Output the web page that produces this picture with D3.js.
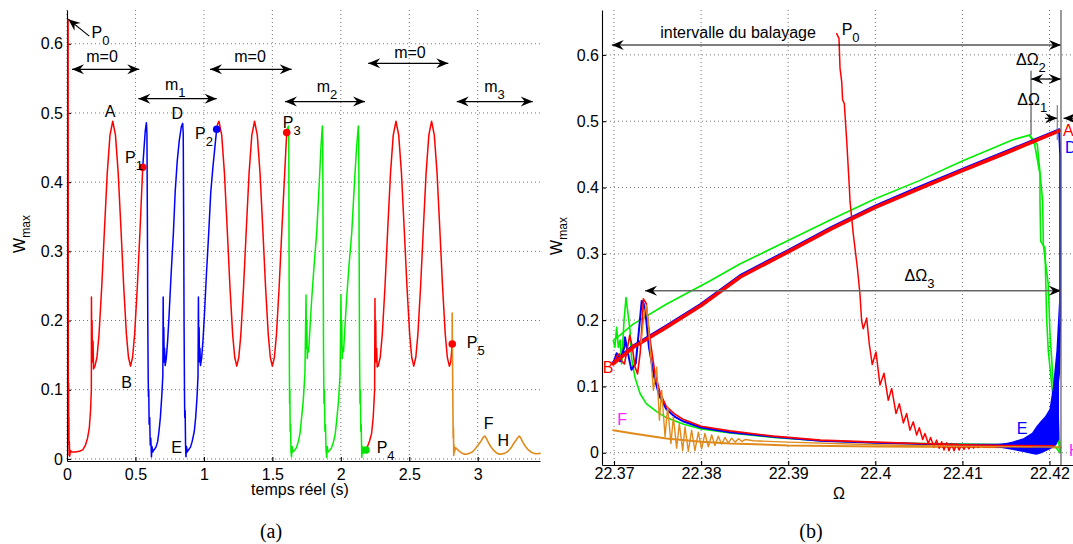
<!DOCTYPE html>
<html><head><meta charset="utf-8">
<script src="https://cdn.jsdelivr.net/npm/d3@7"></script>
<style>
body{margin:0;background:#fff}
svg{display:block}
text{font-family:"Liberation Sans",Arial,Helvetica,sans-serif}
</style>
</head><body>
<svg id="c" width="1073" height="544"></svg>
<script>
// ---------------- DATA ----------------
const yTicks = [0, 0.1, 0.2, 0.3, 0.4, 0.5, 0.6];
const yTickLabels = ["0", "0.1", "0.2", "0.3", "0.4", "0.5", "0.6"];
const leftXTicks = [0, 0.5, 1, 1.5, 2, 2.5, 3];
const leftXTickLabels = ["0", "0.5", "1", "1.5", "2", "2.5", "3"];
const rightXTicks = [22.37, 22.38, 22.39, 22.4, 22.41, 22.42];
const rightXTickLabels = ["22.37", "22.38", "22.39", "22.4", "22.41", "22.42"];

// (a) time series: [t, Wmax]
const redSeg1 = [[0.008,0.635],[0.0085,0.45],[0.009,0.25],[0.0095,0.12],[0.0105,0.05],[0.0115,0.11],[0.0125,0.02],[0.0135,0.06],[0.015,0.005],[0.017,0.025],[0.02,0.004],[0.025,0.012],[0.035,0.01],[0.06,0.01],[0.09,0.011],[0.115,0.013],[0.135,0.02],[0.15,0.03],[0.163,0.045],[0.172,0.07],[0.178,0.1],[0.1785,0.234],[0.181,0.16],[0.183,0.2],[0.186,0.14],[0.19,0.17],[0.194,0.13],[0.204,0.134],[0.219,0.147],[0.234,0.18],[0.254,0.25],[0.274,0.333],[0.294,0.413],[0.314,0.468],[0.334,0.488],[0.354,0.468],[0.374,0.413],[0.394,0.333],[0.414,0.25],[0.434,0.18],[0.449,0.147],[0.464,0.134],[0.479,0.147],[0.494,0.18],[0.514,0.25],[0.534,0.333],[0.553,0.421]];
const blueSeg = [[0.553,0.421],[0.563,0.45],[0.572,0.475],[0.58,0.486],[0.584,0.47],[0.587,0.35],[0.59,0.2],[0.593,0.12],[0.595,0.09],[0.597,0.1],[0.6,0.05],[0.604,0.06],[0.608,0.02],[0.612,0.03],[0.617,0.003],[0.621,0.018],[0.626,0.01],[0.635,0.013],[0.65,0.017],[0.662,0.025],[0.672,0.04],[0.682,0.06],[0.692,0.09],[0.7,0.12],[0.7025,0.234],[0.705,0.15],[0.707,0.19],[0.71,0.14],[0.713,0.16],[0.717,0.135],[0.725,0.145],[0.735,0.17],[0.745,0.205],[0.76,0.265],[0.777,0.326],[0.79,0.385],[0.805,0.43],[0.82,0.46],[0.835,0.48],[0.845,0.485],[0.849,0.47],[0.852,0.35],[0.855,0.2],[0.858,0.1],[0.86,0.06],[0.863,0.07],[0.866,0.02],[0.869,0.003],[0.873,0.018],[0.878,0.01],[0.887,0.013],[0.902,0.017],[0.914,0.025],[0.93,0.04],[0.94,0.06],[0.95,0.09],[0.957,0.12],[0.96,0.234],[0.9625,0.15],[0.965,0.19],[0.968,0.14],[0.971,0.16],[0.975,0.135],[0.983,0.145],[0.993,0.17],[1.003,0.205],[1.018,0.265],[1.035,0.326],[1.05,0.385],[1.065,0.42],[1.08,0.45],[1.093,0.476]];
const redSeg2 = [[1.093,0.476],[1.1,0.484],[1.11,0.488],[1.13,0.468],[1.15,0.413],[1.17,0.333],[1.19,0.25],[1.21,0.18],[1.225,0.147],[1.24,0.134],[1.255,0.147],[1.27,0.18],[1.29,0.25],[1.31,0.333],[1.33,0.413],[1.35,0.468],[1.37,0.488],[1.39,0.468],[1.41,0.413],[1.43,0.333],[1.45,0.25],[1.47,0.18],[1.485,0.147],[1.5,0.134],[1.515,0.147],[1.53,0.18],[1.55,0.25],[1.57,0.333],[1.59,0.413],[1.605,0.4716]];
const greenSeg = [[1.605,0.4716],[1.611,0.478],[1.617,0.481],[1.62,0.46],[1.622,0.3],[1.624,0.15],[1.626,0.08],[1.628,0.1],[1.63,0.04],[1.633,0.05],[1.636,0.01],[1.64,0.003],[1.644,0.018],[1.65,0.01],[1.66,0.012],[1.675,0.016],[1.69,0.025],[1.702,0.037],[1.714,0.06],[1.726,0.085],[1.738,0.124],[1.746,0.237],[1.749,0.16],[1.752,0.2],[1.755,0.145],[1.76,0.16],[1.765,0.155],[1.775,0.19],[1.787,0.23],[1.805,0.28],[1.824,0.327],[1.843,0.4],[1.855,0.45],[1.865,0.481],[1.868,0.46],[1.871,0.3],[1.874,0.15],[1.877,0.08],[1.88,0.1],[1.884,0.04],[1.888,0.05],[1.892,0.012],[1.897,0.002],[1.901,0.018],[1.907,0.01],[1.917,0.012],[1.932,0.016],[1.947,0.025],[1.96,0.037],[1.972,0.06],[1.984,0.085],[1.995,0.124],[2.001,0.237],[2.004,0.16],[2.007,0.2],[2.01,0.145],[2.015,0.16],[2.02,0.155],[2.03,0.19],[2.042,0.23],[2.06,0.28],[2.08,0.327],[2.1,0.4],[2.115,0.45],[2.128,0.481],[2.131,0.46],[2.134,0.3],[2.137,0.15],[2.14,0.08],[2.143,0.1],[2.146,0.04],[2.149,0.05],[2.153,0.002],[2.158,0.018],[2.164,0.008],[2.172,0.01],[2.184,0.013]];
const redSeg3 = [[2.184,0.013],[2.195,0.018],[2.21,0.026],[2.225,0.037],[2.237,0.061],[2.247,0.1],[2.2495,0.232],[2.252,0.15],[2.255,0.2],[2.258,0.14],[2.262,0.16],[2.266,0.133],[2.273,0.134],[2.288,0.147],[2.303,0.18],[2.323,0.25],[2.343,0.333],[2.363,0.413],[2.383,0.468],[2.403,0.488],[2.423,0.468],[2.443,0.413],[2.463,0.333],[2.483,0.25],[2.503,0.18],[2.518,0.147],[2.533,0.134],[2.548,0.147],[2.563,0.18],[2.583,0.25],[2.603,0.333],[2.623,0.413],[2.643,0.468],[2.663,0.488],[2.683,0.468],[2.703,0.413],[2.723,0.333],[2.743,0.25],[2.763,0.18],[2.778,0.147],[2.793,0.134],[2.803,0.14],[2.814,0.166]];
const orangeSeg = [[2.8135,0.166],[2.8138,0.211],[2.815,0.17],[2.817,0.12],[2.819,0.07],[2.821,0.03],[2.823,0.045],[2.825,0.005],[2.827,0.02],[2.83,0.01],[2.838,0.016],[2.846,0.015],[2.86,0.012],[2.88,0.009],[2.9,0.007],[2.92,0.007],[2.94,0.008],[2.96,0.01],[2.98,0.014],[2.995,0.018],[3.01,0.022],[3.025,0.026],[3.04,0.031],[3.053,0.033],[3.065,0.029],[3.08,0.023],[3.095,0.018],[3.114,0.013],[3.135,0.009],[3.155,0.007],[3.175,0.007],[3.195,0.008],[3.215,0.01],[3.235,0.014],[3.25,0.018],[3.265,0.023],[3.28,0.027],[3.293,0.031],[3.304,0.033],[3.315,0.03],[3.33,0.024],[3.345,0.019],[3.37,0.013],[3.39,0.01],[3.41,0.008],[3.43,0.0075],[3.455,0.008]];
const leftDots = [{p:[0.553,0.4214],c:"#ff0000"},{p:[1.0935,0.4764],c:"#0000ff"},{p:[1.605,0.4716],c:"#ff0000"},{p:[2.184,0.013],c:"#00dd00"},{p:[2.814,0.166],c:"#ff0000"}];

// (b) Omega domain: [Omega, Wmax]
const orangeLineR = [[22.3699,0.034],[22.3722,0.029],[22.376,0.0216],[22.38,0.0165],[22.3833,0.014],[22.39,0.011],[22.4,0.0095],[22.41,0.0085],[22.4213,0.008]];
const greenUpperR = [[22.37,0.17],[22.3722,0.194],[22.376,0.224],[22.381,0.259],[22.3845,0.285],[22.39,0.32],[22.395,0.352],[22.4,0.383],[22.405,0.41],[22.41,0.44],[22.4158,0.472],[22.4177,0.479],[22.4183,0.4645],[22.41891,0.42],[22.41891,0.379],[22.41899,0.319],[22.41948,0.309],[22.41967,0.204],[22.41986,0.154],[22.42044,0.079],[22.42083,0.039],[22.42121,0.0]];
const greenDrop2R = [[22.4177,0.479],[22.4186,0.465],[22.41922,0.379],[22.41929,0.314],[22.41986,0.254],[22.42006,0.179],[22.42044,0.104],[22.421,0.054],[22.42121,0.004]];
const greenLowerR = [[22.42121,0.0],[22.4205,0.012],[22.418,0.0115],[22.41,0.013],[22.4,0.015],[22.3937,0.018],[22.3883,0.023],[22.3833,0.03],[22.38,0.036],[22.378,0.043],[22.376,0.053],[22.3749,0.062],[22.3737,0.074],[22.373,0.089],[22.3724,0.114],[22.372,0.144],[22.37184,0.184],[22.37138,0.234],[22.37115,0.2],[22.37088,0.134],[22.3707,0.17],[22.3705,0.159],[22.3703,0.189],[22.3701,0.159],[22.36992,0.169]];
const blueUpperR = [[22.3699,0.136],[22.3722,0.161],[22.376,0.191],[22.38,0.224],[22.3845,0.267],[22.39,0.305],[22.395,0.34],[22.4,0.372],[22.405,0.4],[22.41,0.4275],[22.415,0.454],[22.4211,0.487]];
const blueLowerR = [[22.3699,0.134],[22.3703,0.15],[22.3707,0.138],[22.3712,0.16],[22.37126,0.174],[22.3716,0.15],[22.372,0.125],[22.3725,0.135],[22.3729,0.19],[22.37318,0.229],[22.3734,0.225],[22.3737,0.2],[22.374,0.16],[22.3746,0.115],[22.3752,0.086],[22.376,0.066],[22.377,0.054],[22.378,0.047],[22.38,0.038],[22.3833,0.031],[22.3883,0.024],[22.3937,0.018],[22.4,0.015],[22.405,0.013],[22.41,0.012],[22.414,0.012],[22.416,0.014],[22.418,0.02],[22.419,0.03],[22.42,0.045],[22.4207,0.075],[22.4211,0.12],[22.42123,0.2],[22.42123,0.45],[22.4211,0.487]];
const blueBandOmega = [22.4132,22.4145,22.4158,22.417,22.418,22.4185,22.419,22.4195,22.42,22.4204,22.4208,22.4211];
const blueBandTop = [0.011,0.013,0.017,0.022,0.03,0.04,0.048,0.055,0.066,0.1,0.155,0.229];
const blueBandBottom = [0.009,0.007,0.004,0.001,-0.002,-0.003,-0.001,0.002,0.005,0.008,0.012,0.02];
const redP0R = [[22.39557,0.632],[22.39583,0.6246],[22.39595,0.58],[22.39614,0.56],[22.39625,0.532],[22.39644,0.527],[22.39672,0.47],[22.39702,0.40],[22.3971,0.379],[22.39748,0.329],[22.39794,0.279],[22.39824,0.239],[22.39843,0.199],[22.39862,0.187],[22.39901,0.203],[22.39931,0.164],[22.39965,0.133],[22.40008,0.152],[22.40054,0.102],[22.401,0.12],[22.40149,0.079],[22.40188,0.097],[22.40238,0.059],[22.40276,0.074],[22.40322,0.045],[22.4036,0.059],[22.40398,0.034],[22.40436,0.0466],[22.40475,0.0266],[22.40505,0.0376],[22.40544,0.02],[22.4057,0.029],[22.40608,0.014],[22.40635,0.023],[22.40673,0.009],[22.40704,0.019],[22.40735,0.0066],[22.40762,0.0165],[22.40789,0.004],[22.40819,0.015],[22.40846,0.003],[22.40877,0.014],[22.40904,0.003],[22.40934,0.013],[22.40962,0.004],[22.4099,0.0125],[22.41018,0.005],[22.41046,0.012],[22.41074,0.006],[22.411,0.0115],[22.41128,0.007],[22.41155,0.011],[22.4118,0.008],[22.4121,0.0105],[22.4125,0.009],[22.415,0.0095],[22.418,0.009]];
const redLowerR = [[22.3699,0.134],[22.3703,0.145],[22.3706,0.149],[22.3709,0.138],[22.3712,0.134],[22.3715,0.155],[22.3718,0.177],[22.3721,0.16],[22.3724,0.13],[22.3727,0.119],[22.373,0.15],[22.3732,0.19],[22.37337,0.232],[22.3737,0.225],[22.3741,0.174],[22.3747,0.12],[22.3753,0.09],[22.376,0.07],[22.377,0.058],[22.378,0.05],[22.38,0.04],[22.3833,0.033],[22.3883,0.025],[22.3937,0.019],[22.4,0.016],[22.405,0.014],[22.41,0.012],[22.415,0.011],[22.4205,0.0105]];
const redUpperR = [[22.3699,0.134],[22.3722,0.159],[22.376,0.189],[22.38,0.222],[22.3845,0.265],[22.39,0.303],[22.395,0.338],[22.4,0.37],[22.405,0.398],[22.41,0.4255],[22.415,0.452],[22.4211,0.4855]];
const orangeOscR = [[22.3731,0.166],[22.3733,0.19],[22.37355,0.215],[22.37375,0.222],[22.3739,0.2],[22.37413,0.16],[22.37452,0.094],[22.3749,0.129],[22.37521,0.049],[22.37547,0.094],[22.37586,0.024],[22.37616,0.069],[22.37654,0.014],[22.37681,0.054],[22.37719,0.007],[22.3775,0.044],[22.37788,0.003],[22.37815,0.039],[22.37853,0.002],[22.37891,0.034],[22.37929,0.003],[22.37968,0.031],[22.38006,0.006],[22.38044,0.029],[22.38083,0.009],[22.38121,0.027],[22.38159,0.011],[22.38197,0.025],[22.38236,0.013],[22.38274,0.023],[22.38312,0.015],[22.3835,0.022],[22.3839,0.016],[22.3843,0.021],[22.3847,0.017],[22.3851,0.02],[22.386,0.018],[22.39,0.016],[22.4,0.012],[22.41,0.0095],[22.4213,0.0085]];

// ---------------- LAYOUT ----------------
const RED = "#ff0000", BLUE = "#0000ff", GREEN = "#00ee00", ORANGE = "#e08a1c", MAG = "#ff22ff";
const FS = 16;
const svg = d3.select("#c");
const defs = svg.append("defs");
function marker(id, color) {
  defs.append("marker").attr("id", id).attr("viewBox", "-13 -6 14 12")
    .attr("refX", 0).attr("refY", 0).attr("markerWidth", 14).attr("markerHeight", 12)
    .attr("markerUnits", "userSpaceOnUse").attr("orient", "auto-start-reverse")
    .append("path").attr("d", "M0,0L-12,-5L-8,0L-12,5Z").attr("fill", color);
}
marker("ah", "#000");

const xL = d3.scaleLinear().domain([0, 3.455]).range([67, 540]);
const yL = d3.scaleLinear().domain([-0.003, 0.6488]).range([461, 10]);
const xR = d3.scaleLinear().domain([22.36862, 22.4227]).range([602, 1073]);
const yR = d3.scaleLinear().domain([-0.0185, 0.6677]).range([465, 10]);

function panel(x, y, xTicks, xLabels, xPad, yPad) {
  const g = svg.append("g");
  const [x0, x1] = x.range(), [y0, y1] = y.range();
  g.selectAll(".gh").data(yTicks).join("line")
    .attr("x1", x0).attr("x2", x1).attr("y1", d => y(d)).attr("y2", d => y(d))
    .attr("stroke", "#777").attr("stroke-width", 1).attr("stroke-dasharray", "1,3");
  g.selectAll(".gv").data(xTicks).join("line")
    .attr("x1", d => x(d)).attr("x2", d => x(d)).attr("y1", y1).attr("y2", y0)
    .attr("stroke", "#777").attr("stroke-width", 1).attr("stroke-dasharray", "1,3");
  const ax = g.append("g").attr("transform", `translate(0,${y0})`)
    .call(d3.axisBottom(x).tickValues(xTicks).tickFormat((d, i) => xLabels[i]).tickSizeInner(-4).tickSizeOuter(0).tickPadding(xPad));
  const ay = g.append("g").attr("transform", `translate(${x0},0)`)
    .call(d3.axisLeft(y).tickValues(yTicks).tickFormat((d, i) => yTickLabels[i]).tickSizeInner(-4).tickSizeOuter(0).tickPadding(yPad));
  [ax, ay].forEach(a => {
    a.attr("font-size", FS).attr("font-family", "Liberation Sans, Arial, sans-serif");
    a.selectAll("path,line").attr("stroke", "#000").attr("stroke-width", 1.1);
    a.selectAll("text").attr("fill", "#000");
  });
  return g;
}

const gL = panel(xL, yL, leftXTicks, leftXTickLabels, 7.5, 4);
const gR = panel(xR, yR, rightXTicks, rightXTickLabels, 3, 3);

function drawLine(g, x, y, data, color, w) {
  g.append("path").datum(data)
    .attr("d", d3.line().x(d => x(d[0])).y(d => y(d[1])))
    .attr("fill", "none").attr("stroke", color).attr("stroke-width", w)
    .attr("stroke-linejoin", "round").attr("stroke-linecap", "round");
}

// ----- (a) curves -----
drawLine(gL, xL, yL, redSeg1, RED, 1.5);
drawLine(gL, xL, yL, blueSeg, BLUE, 1.5);
drawLine(gL, xL, yL, redSeg2, RED, 1.5);
drawLine(gL, xL, yL, greenSeg, GREEN, 1.5);
drawLine(gL, xL, yL, redSeg3, RED, 1.5);
drawLine(gL, xL, yL, orangeSeg, ORANGE, 1.6);
gL.selectAll(".dot").data(leftDots).join("circle")
  .attr("cx", d => xL(d.p[0])).attr("cy", d => yL(d.p[1])).attr("r", 3.8).attr("fill", d => d.c);

// ----- (b) curves -----
drawLine(gR, xR, yR, orangeLineR, ORANGE, 2);
drawLine(gR, xR, yR, greenLowerR, GREEN, 1.6);
drawLine(gR, xR, yR, greenUpperR, GREEN, 1.6);
drawLine(gR, xR, yR, greenDrop2R, GREEN, 1.6);
gR.append("path").datum(blueBandOmega.map((o, i) => [o, blueBandBottom[i], blueBandTop[i]]))
  .attr("d", d3.area().x(d => xR(d[0])).y0(d => yR(d[1])).y1(d => yR(d[2])))
  .attr("fill", BLUE);
drawLine(gR, xR, yR, blueUpperR, BLUE, 3);
drawLine(gR, xR, yR, blueLowerR, BLUE, 2);
drawLine(gR, xR, yR, redP0R, RED, 1.5);
drawLine(gR, xR, yR, redLowerR, RED, 1.6);
drawLine(gR, xR, yR, redUpperR, RED, 3.6);
drawLine(gR, xR, yR, orangeOscR, ORANGE, 1.4);

// ----- annotations helpers -----
function label(g, x, y, pos, main, sub, color, anchor) {
  const t = g.append("text").attr("x", x(pos[0])).attr("y", y(pos[1]))
    .attr("font-size", FS).attr("fill", color || "#000").attr("text-anchor", anchor || "start");
  t.append("tspan").text(main);
  if (sub) t.append("tspan").attr("font-size", 13).attr("dy", 7).text(sub);
  return t;
}
function arrow(g, x, y, p1, p2, both, color, w) {
  const l = g.append("line").attr("x1", x(p1[0])).attr("y1", y(p1[1]))
    .attr("x2", x(p2[0])).attr("y2", y(p2[1]))
    .attr("stroke", color || "#000").attr("stroke-width", w || 1.3)
    .attr("marker-end", "url(#ah)");
  if (both) l.attr("marker-start", "url(#ah)");
}

// ----- (a) annotations -----
arrow(gL, xL, yL, [0.163, 0.611], [0.0095, 0.6354], false, "#000", 1.1);
label(gL, xL, yL, [0.179, 0.608], "P", "0");
const mLabels = [
  {pos:[0.2557,0.574], txt:"m=0", a1:[0.0365,0.563], a2:[0.528,0.563]},
  {pos:[1.337,0.574], txt:"m=0", a1:[1.0446,0.563], a2:[1.641,0.563]},
  {pos:[2.505,0.5795], txt:"m=0", a1:[2.2,0.5718], a2:[2.785,0.5718]}
];
mLabels.forEach(m => {
  label(gL, xL, yL, m.pos, m.txt, null, "#000", "middle");
  arrow(gL, xL, yL, m.a1, m.a2, true);
});
const mSubLabels = [
  {pos:[0.716,0.5334], sub:"1", a1:[0.521,0.5206], a2:[1.0935,0.5206]},
  {pos:[1.824,0.5304], sub:"2", a1:[1.592,0.5164], a2:[2.177,0.5164]},
  {pos:[3.048,0.5304], sub:"3", a1:[2.847,0.5164], a2:[3.402,0.5164]}
];
mSubLabels.forEach(m => {
  label(gL, xL, yL, m.pos, "m", m.sub);
  arrow(gL, xL, yL, m.a1, m.a2, true);
});
const letterL = [
  {pos:[0.314,0.4946], t:"A"}, {pos:[0.436,0.1029], t:"B"}, {pos:[0.805,0.4912], t:"D"},
  {pos:[0.801,0.008], t:"E"}, {pos:[3.08,0.0428], t:"F"}, {pos:[3.187,0.019], t:"H"}
];
letterL.forEach(l => label(gL, xL, yL, l.pos, l.t, null, "#000", "middle"));
const pLabelsL = [
  {pos:[0.4237,0.4272], s:"1"}, {pos:[0.935,0.4619], s:"2"}, {pos:[1.5756,0.4778], s:"3"},
  {pos:[2.262,0.0081], s:"4"}, {pos:[2.920,0.1598], s:"5"}
];
pLabelsL.forEach(p => label(gL, xL, yL, p.pos, "P", p.s));

// ----- (b) annotations -----
label(gR, xR, yR, [22.38424, 0.6255], "intervalle du balayage", null, "#000", "middle");
arrow(gR, xR, yR, [22.36974, 0.6149], [22.42132, 0.6149], true, "#000", 1.2);
label(gR, xR, yR, [22.39614, 0.630], "P", "0");
label(gR, xR, yR, [22.41615, 0.5848], "\u0394\u03A9", "2");
arrow(gR, xR, yR, [22.41788, 0.5636], [22.42132, 0.5636], true, "#000", 1.2);
gR.append("line").attr("x1", xR(22.41788)).attr("x2", xR(22.41788)).attr("y1", yR(0.5762)).attr("y2", yR(0.4792)).attr("stroke", "#333").attr("stroke-width", 1);
label(gR, xR, yR, [22.4163, 0.5244], "\u0394\u03A9", "1");
arrow(gR, xR, yR, [22.41948, 0.5044], [22.42089, 0.5044], false, "#000", 1.2);
arrow(gR, xR, yR, [22.4227, 0.5044], [22.42162, 0.5044], false, "#000", 1.2);
gR.append("line").attr("x1", xR(22.42089)).attr("x2", xR(22.42089)).attr("y1", yR(0.5244)).attr("y2", yR(0.4716)).attr("stroke", "#666").attr("stroke-width", 1);
label(gR, xR, yR, [22.40335, 0.259], "\u0394\u03A9", "3");
arrow(gR, xR, yR, [22.37356, 0.2443], [22.42132, 0.2443], true, "#666", 1.6);
gR.append("line").attr("x1", xR(22.42132)).attr("x2", xR(22.42132)).attr("y1", yR(0.6677)).attr("y2", yR(-0.0185)).attr("stroke", "#666").attr("stroke-width", 1.3);
label(gR, xR, yR, [22.36931, 0.1202], "B", null, RED, "middle");
label(gR, xR, yR, [22.37092, 0.0418], "F", null, MAG, "middle");
label(gR, xR, yR, [22.42155, 0.4777], "A", null, RED);
label(gR, xR, yR, [22.42178, 0.452], "D", null, BLUE);
label(gR, xR, yR, [22.41625, 0.0275], "E", null, BLUE);
label(gR, xR, yR, [22.42224, -0.005], "H", null, MAG);

// axis titles
function ytitle(xp, yp) {
  const t = svg.append("text").attr("transform", `translate(${xp},${yp}) rotate(-90)`)
    .attr("font-size", FS).attr("text-anchor", "middle");
  t.append("tspan").text("W");
  t.append("tspan").attr("font-size", 12).attr("dy", 5).text("max");
}
ytitle(25, 234);
ytitle(562, 236);
svg.append("text").attr("x", 300).attr("y", 495).attr("font-size", FS).attr("text-anchor", "middle").text("temps réel (s)");
svg.append("text").attr("x", 839).attr("y", 499).attr("font-size", FS).attr("text-anchor", "middle").text("\u03A9");
svg.append("text").attr("x", 271).attr("y", 538).attr("font-size", 20).attr("text-anchor", "middle").style("font-family", "'Liberation Serif','Times New Roman',serif").text("(a)");
svg.append("text").attr("x", 811).attr("y", 538).attr("font-size", 20).attr("text-anchor", "middle").style("font-family", "'Liberation Serif','Times New Roman',serif").text("(b)");
</script>
</body></html>
